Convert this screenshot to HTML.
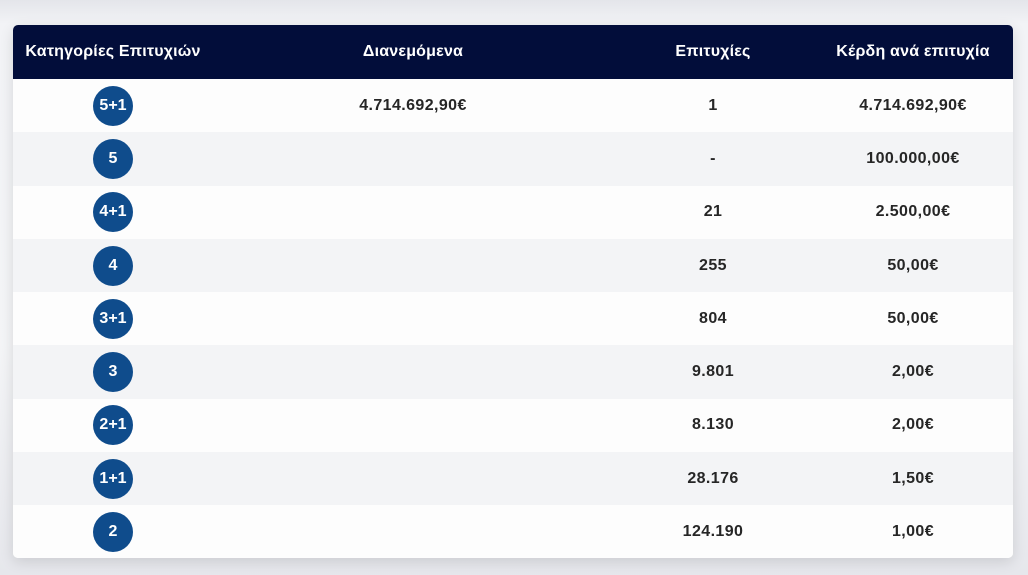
<!DOCTYPE html>
<html><head><meta charset="utf-8"><style>
html,body{margin:0;padding:0;width:1028px;height:575px;overflow:hidden;background:#eceef2;font-family:"Liberation Sans",sans-serif;}
body{background:linear-gradient(#e4e5ea 0,#f2f3f6 24px,#f4f5f7 60%,#e6e7ec 100%);}
.card{position:absolute;left:13px;top:25px;width:1000px;height:533px;border-radius:5px;overflow:hidden;box-shadow:0 4px 14px rgba(0,0,0,0.12);background:#fdfdfd;}
table{border-collapse:collapse;width:1000px;table-layout:fixed;}
th{background:#020d3a;color:#fff;font-size:16px;font-weight:bold;height:54px;padding:0;letter-spacing:0.2px;}
td{height:53.3px;padding:0;text-align:center;font-size:16px;font-weight:bold;color:#262626;letter-spacing:0.4px;}
tr.alt td{background:#f3f4f6;}
tr.w td{background:#fdfdfd;}
.c{display:inline-block;width:40px;height:40px;border-radius:50%;background:#0f4c8c;color:#fff;line-height:40px;font-size:16px;letter-spacing:0;vertical-align:middle;}
</style></head><body>
<div class="card">
<table>
<colgroup><col style="width:200px"><col style="width:400px"><col style="width:200px"><col style="width:200px"></colgroup>
<thead><tr>
<th>Κατηγορίες Επιτυχιών</th>
<th>Διανεμόμενα</th>
<th>Επιτυχίες</th>
<th>Κέρδη ανά επιτυχία</th>
</tr></thead>
<tbody>
<tr class="w"><td><span class="c">5+1</span></td><td>4.714.692,90€</td><td>1</td><td>4.714.692,90€</td></tr>
<tr class="alt"><td><span class="c">5</span></td><td></td><td>-</td><td>100.000,00€</td></tr>
<tr class="w"><td><span class="c">4+1</span></td><td></td><td>21</td><td>2.500,00€</td></tr>
<tr class="alt"><td><span class="c">4</span></td><td></td><td>255</td><td>50,00€</td></tr>
<tr class="w"><td><span class="c">3+1</span></td><td></td><td>804</td><td>50,00€</td></tr>
<tr class="alt"><td><span class="c">3</span></td><td></td><td>9.801</td><td>2,00€</td></tr>
<tr class="w"><td><span class="c">2+1</span></td><td></td><td>8.130</td><td>2,00€</td></tr>
<tr class="alt"><td><span class="c">1+1</span></td><td></td><td>28.176</td><td>1,50€</td></tr>
<tr class="w"><td><span class="c">2</span></td><td></td><td>124.190</td><td>1,00€</td></tr>
</tbody></table></div>
</body></html>
